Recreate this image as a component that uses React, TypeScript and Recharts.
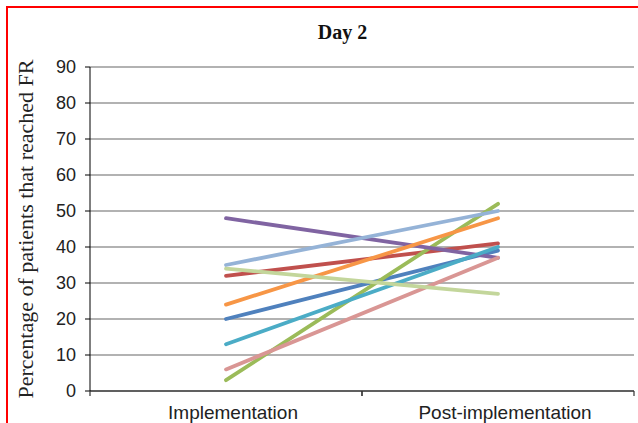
import React from "react";
import { LineChart, Line, XAxis, YAxis, CartesianGrid, Label } from "recharts";

const phases = ["Implementation", "Post-implementation"];

// one list per line, values at [implementation, post-implementation]
const blueVals = [20, 39];
const redVals = [32, 41];
const greenVals = [3, 52];
const purpleVals = [48, 37];
const tealVals = [13, 40];
const orangeVals = [24, 48];
const lightBlueVals = [35, 50];
const pinkVals = [6, 37];
const lightGreenVals = [34, 27];

const yTicks = [0, 10, 20, 30, 40, 50, 60, 70, 80, 90];

const series = [
    { key: "s1", values: blueVals, color: "#4F81BD" },
    { key: "s2", values: redVals, color: "#C0504D" },
    { key: "s3", values: greenVals, color: "#9BBB59" },
    { key: "s4", values: purpleVals, color: "#8064A2" },
    { key: "s5", values: tealVals, color: "#4BACC6" },
    { key: "s6", values: orangeVals, color: "#F79646" },
    { key: "s7", values: lightBlueVals, color: "#95B3D7" },
    { key: "s8", values: pinkVals, color: "#D99694" },
    { key: "s9", values: lightGreenVals, color: "#C3D69B" },
];

const data = phases.map((phase, i) => {
    const row: Record<string, string | number> = { phase };
    series.forEach((s) => {
        row[s.key] = s.values[i];
    });
    return row;
});

const sansFont = "'Liberation Sans', Arial, sans-serif";
const serifFont = "'Liberation Serif', 'Times New Roman', serif";

const HALF_BAND = 136;

// category label centred in its band, with tick marks on the band edges
function PhaseTick(props: any) {
    const { x, y, payload } = props;
    const axisY = y - 15;
    return (
        <g>
            <line x1={x - HALF_BAND} x2={x - HALF_BAND} y1={axisY} y2={axisY + 5} stroke="#333" strokeWidth={1.2} />
            <line x1={x + HALF_BAND} x2={x + HALF_BAND} y1={axisY} y2={axisY + 5} stroke="#333" strokeWidth={1.2} />
            <text x={x + 7} y={y} dy="0.71em" textAnchor="middle" fill="#222" fontSize={19} fontFamily={sansFont}>
                {payload.value}
            </text>
        </g>
    );
}

export default function App() {
    return (
        <div style={{ position: "absolute", left: 0, top: 0, width: 638, height: 423, background: "#fff" }}>
            <div
                style={{
                    position: "absolute",
                    left: 6,
                    top: 6,
                    width: 632,
                    height: 417,
                    borderTop: "2px solid #f00",
                    borderLeft: "2px solid #f00",
                    boxSizing: "border-box",
                }}
            />
            <div
                style={{
                    position: "absolute",
                    left: 0,
                    width: 685,
                    top: 22,
                    textAlign: "center",
                    fontFamily: serifFont,
                    fontWeight: "bold",
                    fontSize: 20,
                    lineHeight: "20px",
                    color: "#111",
                }}
            >
                Day 2
            </div>
            <LineChart width={638} height={423} data={data} margin={{ top: 67, right: 4, bottom: 0, left: 0 }}>
                <CartesianGrid vertical={false} stroke="#999" strokeWidth={1.3} />
                <XAxis
                    dataKey="phase"
                    height={32}
                    padding={{ left: HALF_BAND, right: HALF_BAND }}
                    tickLine={false}
                    tickSize={5}
                    tickMargin={10}
                    axisLine={{ stroke: "#444", strokeWidth: 1.5 }}
                    tick={<PhaseTick />}
                    interval={0}
                />
                <YAxis
                    width={90}
                    domain={[0, 90]}
                    ticks={yTicks}
                    interval={0}
                    tickSize={5}
                    tickMargin={9}
                    axisLine={{ stroke: "#000" }}
                    tickLine={{ stroke: "#000" }}
                    tick={{ fill: "#222", fontSize: 18, fontFamily: sansFont }}
                >
                    <Label
                        content={() => (
                            <text
                                x={25}
                                y={229}
                                transform="rotate(-90 25 229)"
                                textAnchor="middle"
                                dominantBaseline="central"
                                fontSize={22}
                                fontFamily={serifFont}
                                fill="#222"
                            >
                                Percentage of patients that reached FR
                            </text>
                        )}
                    />
                </YAxis>
                {series.map((s) => (
                    <Line
                        key={s.key}
                        dataKey={s.key}
                        stroke={s.color}
                        strokeWidth={3.8}
                        strokeLinecap="round"
                        dot={false}
                        activeDot={false}
                        isAnimationActive={false}
                    />
                ))}
            </LineChart>
        </div>
    );
}
